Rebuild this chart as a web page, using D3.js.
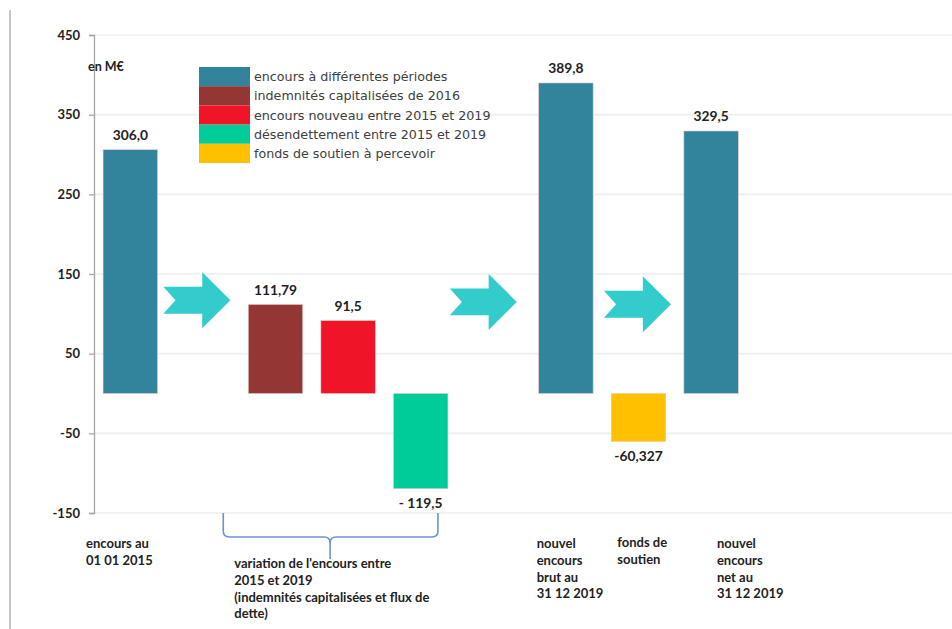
<!DOCTYPE html>
<html lang="fr">
<head>
<meta charset="utf-8">
<script src="https://cdn.jsdelivr.net/npm/d3@7/dist/d3.min.js"></script>
<style>
  html, body { margin: 0; padding: 0; background: #fff; }
  svg { display: block; }
  .tick-label, .value-label, .cat-label, .unit { font-family: Lato, "Open Sans", sans-serif; font-weight: 700; fill: #222; }
  .legend-text { font-family: "DejaVu Sans", Verdana, sans-serif; fill: #404040; }
</style>
</head>
<body>
<svg id="chart" width="952" height="629"></svg>
<script>
// Series (legend entries) and their colours
const seriesNames = [
  "encours à différentes périodes",
  "indemnités capitalisées de 2016",
  "encours nouveau entre 2015 et 2019",
  "désendettement entre 2015 et 2019",
  "fonds de soutien à percevoir"
];
const seriesColors = ["#31849B", "#943634", "#F01428", "#00CC99", "#FFC000"];

// Bars: value in M€, series index, slot on the category axis
const barNames = [
  "encours 01 01 2015",
  "indemnités capitalisées",
  "encours nouveau",
  "désendettement",
  "encours brut 31 12 2019",
  "fonds de soutien",
  "encours net 31 12 2019"
];
const barValues = [306.0, 111.79, 91.5, -119.5, 389.8, -60.327, 329.5];
const barLabels = ["306,0", "111,79", "91,5", "- 119,5", "389,8", "-60,327", "329,5"];
const barSeries = [0, 1, 2, 3, 0, 4, 0];
const barSlots = [0, 2, 3, 4, 6, 7, 8];

// Flow arrows between the stages (slot and level in M€)
const arrowSlots = [1, 5, 7];
const arrowLevels = [117, 115, 112];

// Axis ticks
const yTicks = [450, 350, 250, 150, 50, -50, -150];

// Category captions under the plot
const captionLines = [
  ["encours au", "01 01 2015"],
  ["variation de l'encours entre", "2015 et 2019", "(indemnités capitalisées et flux de", "dette)"],
  ["nouvel", "encours", "brut au", "31 12 2019"],
  ["fonds de", "soutien"],
  ["nouvel", "encours", "net au", "31 12 2019"]
];

const svg = d3.select("#chart");
const W = 952, H = 629;
svg.append("rect").attr("width", W).attr("height", H).attr("fill", "#fff");

// Scales
const axisX = 94;
const slotCount = 9;
const step = 72.6;
const x = d3.scaleBand()
  .domain(d3.range(slotCount))
  .range([axisX, axisX + slotCount * step])
  .paddingInner(0.25)
  .paddingOuter(0.125);
const y = d3.scaleLinear().domain([-150, 450]).range([513, 35]);

// Frame line on the left
svg.append("line")
  .attr("x1", 10).attr("x2", 10).attr("y1", 10).attr("y2", H)
  .attr("stroke", "#C4C4C4").attr("stroke-width", 2);

// Gridlines
svg.append("g").selectAll("line").data(yTicks).join("line")
  .attr("x1", axisX).attr("x2", W)
  .attr("y1", d => y(d)).attr("y2", d => y(d))
  .attr("stroke", "#EEEEEE").attr("stroke-width", 1.6);

// Y axis (plain hyphen for negatives)
const yAxis = d3.axisLeft(y).tickValues(yTicks).tickSize(5).tickPadding(9)
  .tickFormat(d => String(d));
const gy = svg.append("g").attr("transform", `translate(${axisX},0)`).call(yAxis);
gy.select(".domain").attr("stroke", "#A6A6A6").attr("stroke-width", 1.3);
gy.selectAll(".tick line").attr("stroke", "#A6A6A6").attr("stroke-width", 1.3);
gy.selectAll(".tick text").attr("class", "tick-label").style("font-size", "13px");

// Unit
svg.append("text").attr("class", "unit")
  .attr("x", 88).attr("y", 66).attr("dominant-baseline", "central")
  .style("font-size", "12.5px").text("en M€");

// Bars
const bars = barValues.map((v, i) => ({ v, s: barSeries[i], slot: barSlots[i], label: barLabels[i], name: barNames[i] }));
svg.append("g").selectAll("rect").data(bars).join("rect")
  .attr("x", d => x(d.slot))
  .attr("width", x.bandwidth())
  .attr("y", d => y(Math.max(0, d.v)))
  .attr("height", d => Math.abs(y(d.v) - y(0)))
  .attr("fill", d => seriesColors[d.s])
  .attr("stroke", "#E6C9C9").attr("stroke-width", 0.6);

// Value labels
svg.append("g").selectAll("text").data(bars).join("text")
  .attr("class", "value-label")
  .attr("x", d => x(d.slot) + x.bandwidth() / 2)
  .attr("y", d => d.v >= 0 ? y(d.v) - 15 : y(d.v) + 14)
  .attr("text-anchor", "middle")
  .attr("dominant-baseline", "central")
  .style("font-size", "13.8px")
  .text(d => d.label);

// Flow arrows (notched chevron)
const arrowW = 67, arrowH = 56;
const arrowShift = [-6, -10, -1];
function arrowPath(cx, cy) {
  const x0 = cx - arrowW / 2, y0 = cy - arrowH / 2;
  const hx = x0 + arrowW * 0.58, nx = x0 + arrowW * 0.18;
  const st = y0 + arrowH * 0.26, sb = y0 + arrowH * 0.74;
  return `M${x0},${st} L${hx},${st} L${hx},${y0} L${x0 + arrowW},${cy} L${hx},${y0 + arrowH} L${hx},${sb} L${x0},${sb} L${nx},${cy} Z`;
}
svg.append("g").selectAll("path").data(arrowSlots).join("path")
  .attr("d", (s, i) => arrowPath(x(s) + x.bandwidth() / 2 + arrowShift[i], y(arrowLevels[i])))
  .attr("fill", "#33CCCC");

// Legend
const legX = 199, legY = 67, rowH = 19.2, swW = 51;
const leg = svg.append("g");
leg.selectAll("rect").data(seriesNames).join("rect")
  .attr("x", legX).attr("y", (d, i) => legY + i * rowH)
  .attr("width", swW).attr("height", rowH)
  .attr("fill", (d, i) => seriesColors[i]);
leg.selectAll("text").data(seriesNames).join("text")
  .attr("class", "legend-text")
  .attr("x", legX + swW + 4)
  .attr("y", (d, i) => legY + i * rowH + rowH / 2)
  .attr("dominant-baseline", "central")
  .style("font-size", "12.7px")
  .text(d => d);

// Brace grouping the variation bars
const bL = x(2) - 25, bR = x(4) + x.bandwidth() - 10;
const bTop = y(-150), bMid = bTop + 24, bTip = bTop + 46, bC = (bL + bR) / 2 - 0.5, r = 6;
const brace = d3.path();
brace.moveTo(bL, bTop);
brace.lineTo(bL, bMid - r);
brace.quadraticCurveTo(bL, bMid, bL + r, bMid);
brace.lineTo(bC - r, bMid);
brace.quadraticCurveTo(bC, bMid, bC, bMid + r);
brace.lineTo(bC, bTip);
brace.moveTo(bC, bMid + r);
brace.quadraticCurveTo(bC, bMid, bC + r, bMid);
brace.lineTo(bR - r, bMid);
brace.quadraticCurveTo(bR, bMid, bR, bMid - r);
brace.lineTo(bR, bTop);
svg.append("path").attr("d", brace.toString())
  .attr("fill", "none").attr("stroke", "#6A94CF").attr("stroke-width", 1.6);

// Captions under the categories
const captionPos = [
  { x: x(0) - 17, y: 543 },
  { x: x(2) - 14, y: 563 },
  { x: x(6) - 2, y: 543 },
  { x: x(7) + 6, y: 542 },
  { x: x(8) + 33, y: 543 }
];
const lineH = 16.8;
captionLines.forEach((lines, i) => {
  const t = svg.append("text").attr("class", "cat-label").style("font-size", "13px");
  lines.forEach((ln, j) => {
    t.append("tspan")
      .attr("x", captionPos[i].x)
      .attr("y", captionPos[i].y + j * lineH)
      .attr("dominant-baseline", "central")
      .text(ln);
  });
});
</script>
</body>
</html>
